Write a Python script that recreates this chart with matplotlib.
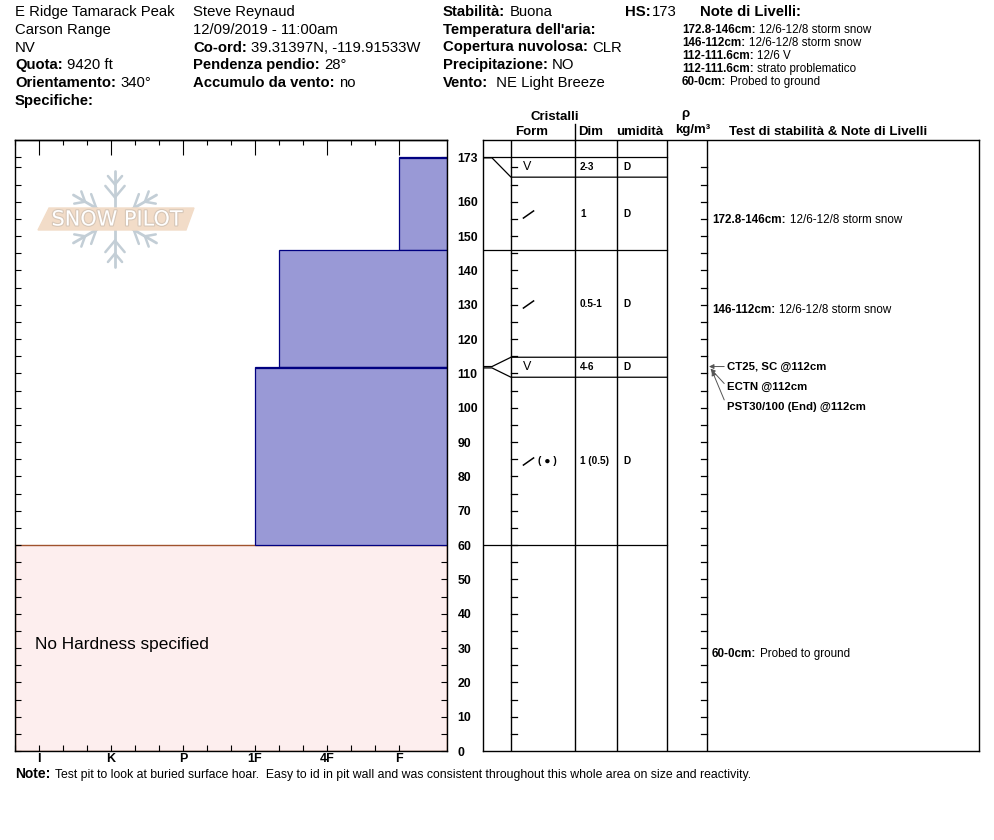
import matplotlib
matplotlib.use('Agg')
import matplotlib.pyplot as plt
from matplotlib import patheffects
import numpy as np

plt.rcParams['font.family'] = ['Liberation Sans', 'DejaVu Sans']

W, H = 994, 840

# ---------------- Data ----------------
site_col1 = [("", "E Ridge Tamarack Peak"), ("", "Carson Range"), ("", "NV"),
             ("Quota:", "9420 ft"), ("Orientamento:", "340°"), ("Specifiche:", "")]
site_col2 = [("", "Steve Reynaud"), ("", "12/09/2019 - 11:00am"),
             ("Co-ord:", "39.31397N, -119.91533W"), ("Pendenza pendio:", "28°"),
             ("Accumulo da vento:", "no")]
site_col3 = [("Stabilità:", "Buona"), ("Temperatura dell'aria:", ""),
             ("Copertura nuvolosa:", "CLR"), ("Precipitazione:", "NO"),
             ("Vento:", " NE Light Breeze")]
hs_value = 173
layer_note_lines = [("172.8-146cm:", "12/6-12/8 storm snow"),
                    ("146-112cm:", "12/6-12/8 storm snow"),
                    ("112-111.6cm:", "12/6 V"),
                    ("112-111.6cm:", "strato problematico"),
                    ("60-0cm:", "Probed to ground")]

layer_top = [173.0, 172.8, 146.0, 112.0, 111.6]
layer_bottom = [172.8, 146.0, 112.0, 111.6, 60.0]
layer_hardness = ['F', 'F', '1F-', '1F', '1F']
layer_form = ['V', '/', '/', 'V', '/ (●)']
layer_size = ['2-3', '1', '0.5-1', '4-6', '1 (0.5)']
layer_moisture = ['D', 'D', 'D', 'D', 'D']
no_hardness_top = 60.0

hardness_labels = ['I', 'K', 'P', '1F', '4F', 'F']
hardness_values = [6, 5, 4, 3, 2, 1]
height_ticks = [0, 10, 20, 30, 40, 50, 60, 70, 80, 90, 100, 110, 120, 130, 140, 150, 160, 173]

comment_ranges = [(172.8, 146.0, "172.8-146cm:", "12/6-12/8 storm snow"),
                  (146.0, 112.0, "146-112cm:", "12/6-12/8 storm snow"),
                  (60.0, 0.0, "60-0cm:", "Probed to ground")]
test_results = ["CT25, SC @112cm", "ECTN @112cm", "PST30/100 (End) @112cm"]
test_depth = 112.0
note_text = "Test pit to look at buried surface hoar.  Easy to id in pit wall and was consistent throughout this whole area on size and reactivity."

# ---------------- Helpers ----------------
hard_map = {'F': 1, '4F': 2, '1F': 3, 'P': 4, 'K': 5, 'I': 6}


def hardness_index(code):
    base = code.rstrip('+-')
    v = hard_map[base]
    if code.endswith('-'):
        v -= 1 / 3
    elif code.endswith('+'):
        v += 1 / 3
    return v


fig = plt.figure(figsize=(W / 100, H / 100), dpi=100)


def px_axes(x0, y0, x1, y1, **kw):
    return fig.add_axes([x0 / W, 1 - y1 / H, (x1 - x0) / W, (y1 - y0) / H], **kw)


def two_part(axis, x, y, bold, normal, size, va='center', gap=3, size2=None, **kw):
    t = axis.text(x, y, bold, fontweight='bold', fontsize=size, va=va, ha='left', **kw)
    if normal:
        axis.annotate(normal, xy=(1, 0), xycoords=t, xytext=(gap, 0),
                      textcoords='offset points', va='bottom', ha='left',
                      fontsize=size2 if size2 else size)
    return t


YMAX = 178.0
XL, XR = 6 + 1 / 3, 1 / 3
PX_PER_CM = 611 / YMAX

# ---------------- Hardness profile ----------------
ax = px_axes(15, 140, 447, 751)
ax.set_xlim(XL, XR)
ax.set_ylim(0, YMAX)
for s in ax.spines.values():
    s.set_linewidth(1.0)

ax.barh(0, XL - XR, left=XR, height=no_hardness_top, align='edge',
        color='#fdeeee', edgecolor='#a0522d', linewidth=1.0, zorder=1)
ax.text(6.05, 31, "No Hardness specified", fontsize=12.4, va='center', ha='left')

for top, bot, hc in zip(layer_top, layer_bottom, layer_hardness):
    hv = hardness_index(hc)
    ax.barh(bot, hv - XR, left=XR, height=top - bot, align='edge',
            color='#9999d6', edgecolor='#000080', linewidth=0.9, zorder=2)

ax.set_xticks(hardness_values)
ax.set_xticklabels(hardness_labels, fontweight='bold', fontsize=9)
ax.set_xticks(np.arange(1, 6.34, 1 / 3), minor=True)
ax.tick_params(axis='x', which='both', direction='in', length=4, width=0.8, pad=1.5,
               top=False, bottom=True)
sec = ax.secondary_xaxis('top')
sec.set_xticks(hardness_values)
sec.set_xticks(np.arange(1, 6.34, 1 / 3), minor=True)
sec.set_xticklabels([])
sec.tick_params(axis='x', which='major', direction='in', length=11, width=0.8)
sec.tick_params(axis='x', which='minor', direction='in', length=3.5, width=0.8)
sec.spines['top'].set_linewidth(1.0)

ax.set_yticks(height_ticks)
ax.set_yticklabels([str(t) for t in height_ticks], fontweight='bold', fontsize=8.8)
ax.set_yticks([t for t in range(5, 171, 5) if t % 10 != 0 or t == 170], minor=True)
ax.yaxis.set_ticks_position('both')
ax.tick_params(axis='y', which='both', direction='in', length=4, width=0.8,
               left=True, right=True, labelleft=False, labelright=True, pad=7.5)

# ---------------- Layer table ----------------
tb = px_axes(483, 140, 979, 751)
tb.set_xlim(483, 979)
tb.set_ylim(0, YMAX)
tb.set_xticks([])
tb.set_yticks([])
for s in tb.spines.values():
    s.set_linewidth(1.0)

col_x = [511, 575, 617, 667, 707]
for cx in col_x:
    tb.axvline(cx, color='black', lw=1.0)

min_d = 20 / PX_PER_CM
disp = []
for top, bot in zip(layer_top, layer_bottom):
    if top - bot < min_d:
        mid = (top + bot) / 2
        dt = min(mid + min_d / 2, hs_value)
        disp.append((dt, dt - min_d))
    else:
        disp.append(None)
disp_top, disp_bot = [], []
for i, (top, bot) in enumerate(zip(layer_top, layer_bottom)):
    if disp[i]:
        disp_top.append(disp[i][0]); disp_bot.append(disp[i][1])
    else:
        t = disp[i - 1][1] if i > 0 and disp[i - 1] else top
        b = disp[i + 1][0] if i + 1 < len(disp) and disp[i + 1] else bot
        disp_top.append(t); disp_bot.append(b)

bounds = {}
for top, bot, dt, db in zip(layer_top, layer_bottom, disp_top, disp_bot):
    bounds[top] = dt
    bounds[bot] = db
bounds[0.0] = 0.0
for a, d in bounds.items():
    if a <= 0:
        continue
    tb.plot([483, 492, 511, 667], [a, a, d, d], color='black', lw=0.9)

for h in range(5, 171, 5):
    tb.plot([511, 517], [h, h], color='black', lw=0.9)
    tb.plot([701, 707], [h, h], color='black', lw=0.9)

for f, sz, mo, dt, db in zip(layer_form, layer_size, layer_moisture, disp_top, disp_bot):
    ym = (dt + db) / 2
    if f.startswith('/'):
        tb.plot([528], [ym], marker=(2, 0, -55), ms=10, mew=1.1, color='black')
        if len(f) > 1:
            tb.text(538, ym, "( ● )", fontsize=7.5, fontweight='bold', ha='left', va='center')
    else:
        tb.text(523, ym, f, fontsize=9, ha='left', va='center')
    tb.text(580, ym, sz, fontsize=7.2, fontweight='bold', ha='left', va='center')
    tb.text(623, ym, mo, fontsize=7.2, fontweight='bold', ha='left', va='center')

for top, bot, b, n in comment_ranges:
    ym = (bounds[top] + bounds[bot]) / 2
    two_part(tb, 712, ym, b, n, 8.4, va='top')

for k, tr in enumerate(test_results):
    yt = test_depth - k * min_d
    tb.annotate(tr, xy=(709 + 1.5 * k, test_depth - 0.6 * k), xytext=(727, yt),
                fontsize=8.2, fontweight='bold', va='center', ha='left',
                arrowprops=dict(arrowstyle='-|>', color='#555555', lw=0.7,
                                mutation_scale=7, shrinkA=0, shrinkB=0,
                                relpos=(0, 0.5)))

# ---------------- Overlay (header, logo, notes) ----------------
ov = fig.add_axes([0, 0, 1, 1], zorder=10)
ov.set_xlim(0, W)
ov.set_ylim(H, 0)
ov.axis('off')
ov.patch.set_alpha(0)

HF = 10.7
row_y = [12, 30, 47.5, 65, 83, 101]
for (b, n), y in zip(site_col1, row_y):
    if b:
        two_part(ov, 15, y, b, n, HF)
    else:
        ov.text(15, y, n, fontsize=HF, va='center')
for (b, n), y in zip(site_col2, row_y):
    if b:
        two_part(ov, 193, y, b, n, HF)
    else:
        ov.text(193, y, n, fontsize=HF, va='center')
for (b, n), y in zip(site_col3, row_y):
    two_part(ov, 443, y, b, n, HF)
two_part(ov, 625, 12, "HS:", str(hs_value), HF, gap=1)
ov.text(700, 12, "Note di Livelli:", fontsize=HF, fontweight='bold', va='center')
for k, (b, n) in enumerate(layer_note_lines):
    two_part(ov, 682, 30 + 13 * k, b, n, 8.4, gap=2.5)

HH = 9.5
ov.text(555, 117, "Cristalli", fontsize=HH, fontweight='bold', ha='center', va='center')
ov.text(532, 132, "Form", fontsize=HH, fontweight='bold', ha='center', va='center')
ov.text(591, 132, "Dim", fontsize=HH, fontweight='bold', ha='center', va='center')
ov.text(640, 132, "umidità", fontsize=HH, fontweight='bold', ha='center', va='center')
ov.text(685, 114, "ρ", fontsize=HH, fontweight='bold', ha='center', va='center')
ov.text(693, 130, "kg/m³", fontsize=HH, fontweight='bold', ha='center', va='center')
ov.text(828, 132, "Test di stabilità & Note di Livelli", fontsize=HH, fontweight='bold',
        ha='center', va='center')
ov.plot([575, 575], [124, 140], color='black', lw=1.0)

two_part(ov, 15, 774, "Note:", note_text, 10, gap=3, size2=8.8)

# logo
cx, cy, R = 115, 219, 48
flake = '#c3ced6'
for ang in [90, 30, 150, 210, 270, 330]:
    a = np.deg2rad(ang)
    dx, dy = np.cos(a), -np.sin(a)
    ov.plot([cx, cx + R * dx], [cy, cy + R * dy], color=flake, lw=2, zorder=1,
            solid_capstyle='round')
    for frac, bl in [(0.45, 15), (0.72, 11)]:
        px, py = cx + frac * R * dx, cy + frac * R * dy
        for s in (-1, 1):
            b = a + s * np.deg2rad(40)
            ov.plot([px, px + bl * np.cos(b)], [py, py - bl * np.sin(b)],
                    color=flake, lw=1.8, zorder=1, solid_capstyle='round')
ov.fill([49, 194, 186, 38], [208, 208, 230, 230], color='#f2dcc8', zorder=2)
ov.text(117, 219.5, "SNOW PILOT", fontsize=15, color='white', ha='center', va='center',
        zorder=3, family='DejaVu Sans',
        path_effects=[patheffects.withStroke(linewidth=1.6, foreground='#d7c7b8')])

fig.savefig('out.png', dpi=100)
